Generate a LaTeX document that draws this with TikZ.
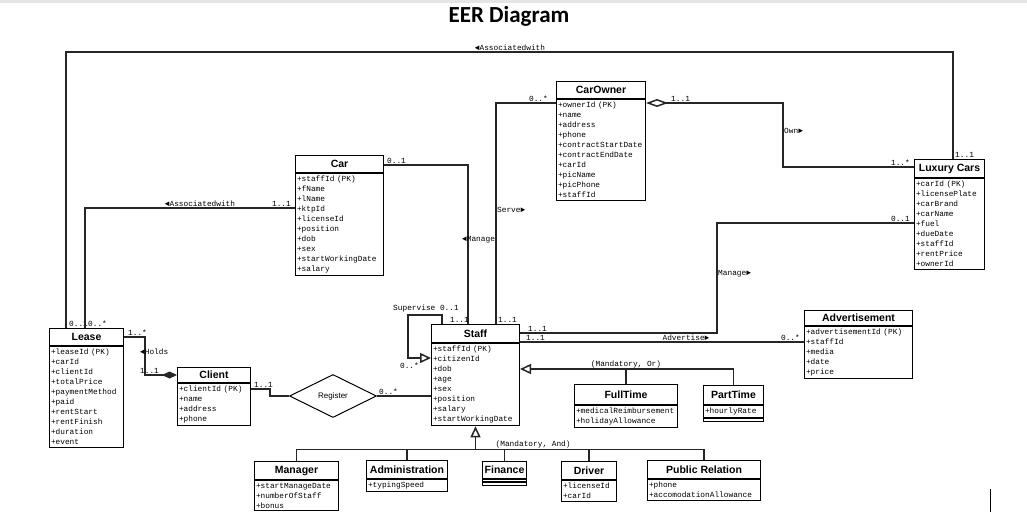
\documentclass[tikz,border=0pt]{standalone}
\usepackage{fontspec}
\setmainfont{Liberation Sans}
\setmonofont{Liberation Mono}
\newfontfamily\titlefont{Carlito}
\usetikzlibrary{arrows.meta, shapes.geometric}
% [header options]{name}{x}{y}{width}{title}{attributes}
\newcommand{\umlclass}[7][]{%
  \node[classhead, minimum width=#5pt, #1] (#2) at (#3,#4) {#6};
  \node[classbody, text width=#5pt-3pt] (#2 attr) at (#2.south) {#7};
}

\begin{document}
\begin{tikzpicture}[
        x=1pt, y=-1pt,
        classhead/.style={draw, line width=1pt, anchor=north west, inner sep=0pt,
          minimum height=17pt, font=\bfseries\fontsize{10.5}{12}\selectfont},
        classbody/.style={draw, line width=1pt, anchor=north, align=left,
          inner xsep=1.5pt, inner ysep=2.5pt, font=\ttfamily\fontsize{7.8}{10}\selectfont},
        assoc/.style={draw, line width=1.5pt, black!85},
        mult/.style={inner sep=1pt, font=\ttfamily\fontsize{7.8}{10}\selectfont},
        gen/.style={-{Triangle[open, length=11pt, width=10pt]}}]
        \useasboundingbox (0,0) rectangle (1027,525);
        \fill[black!10] (0,0) rectangle (1027,3);
        \node[font=\titlefont\bfseries\fontsize{23}{26}\selectfont] (title) at (509,16) {EER Diagram};
        % Classes
        \umlclass{carowner}{556}{81}{89}{CarOwner}{+ownerId (PK)\\+name\\+address\\+phone\\+contractStartDate\\+contractEndDate\\+carId\\+picName\\+picPhone\\+staffId}
        \umlclass{car}{295}{155}{88}{Car}{+staffId (PK)\\+fName\\+lName\\+ktpId\\+licenseId\\+position\\+dob\\+sex\\+startWorkingDate\\+salary}
        \umlclass[minimum height=18pt]{luxury}{914}{159}{70}{Luxury Cars}{+carId (PK)\\+licensePlate\\+carBrand\\+carName\\+fuel\\+dueDate\\+staffId\\+rentPrice\\+ownerId}
        \umlclass[minimum height=18pt]{staff}{431}{324}{88}{Staff}{+staffId (PK)\\+citizenId\\+dob\\+age\\+sex\\+position\\+salary\\+startWorkingDate}
        \umlclass{lease}{49}{328}{74}{Lease}{+leaseId (PK)\\+carId\\+clientId\\+totalPrice\\+paymentMethod\\+paid\\+rentStart\\+rentFinish\\+duration\\+event}
        \umlclass[minimum height=15pt]{client}{177}{367}{73}{Client}{+clientId (PK)\\+name\\+address\\+phone}
        \umlclass[minimum height=15pt]{advert}{804}{310}{108}{Advertisement}{+advertisementId (PK)\\+staffId\\+media\\+date\\+price}
        \umlclass[minimum height=20pt]{fulltime}{574}{384}{103}{FullTime}{+medicalReimbursement\\+holidayAllowance}
        \umlclass[minimum height=19pt]{parttime}{703}{385}{60}{PartTime}{+hourlyRate}
        \node[classbody, text width=57pt, inner ysep=1.5pt] (parttime ops) at (parttime attr.south) {};
        \umlclass[minimum height=18pt]{manager}{254}{461}{84}{Manager}{+startManageDate\\+numberOfStaff\\+bonus}
        \umlclass[minimum height=18pt]{admin}{366}{460}{81}{Administration}{+typingSpeed}
        \node[classhead, minimum width=44pt] (finance) at (482,461) {Finance};
        \node[classbody, text width=41pt, inner ysep=1.2pt] (finance attr) at (finance.south) {};
        \node[classbody, text width=41pt, inner ysep=1.2pt] (finance ops) at (finance attr.south) {};
        \umlclass[minimum height=18pt]{driver}{561}{461}{55}{Driver}{+licenseId\\+carId}
        \umlclass[minimum height=18pt]{pubrel}{647}{460}{113}{Public Relation}{+phone\\+accomodationAllowance}
        \node[diamond, draw, line width=1pt, aspect=2, minimum width=87pt, minimum height=43pt,
          inner sep=0pt, font=\fontsize{8}{10}\selectfont] (register) at (333,396) {Register};
        % Relations
        \coordinate (assoc top) at (510,52);
        \draw[assoc] ([xshift=17pt]lease.north west) |- (assoc top) -| ([xshift=39pt]luxury.north west);
        \node[mult, anchor=south] (assoc top label) at (assoc top) {◄Associatedwith};
        \node[mult, anchor=south west] (lease mult a) at ([xshift=19pt]lease.north west) {0..1};
        \node[mult, anchor=south west] (lease mult b) at ([xshift=38pt]lease.north west) {0..*};
        \node[mult, anchor=south west] (luxury mult top) at ([xshift=40pt]luxury.north west) {1..1};

        \coordinate (car lease) at ([yshift=-53pt]car.north west);
        \draw[assoc] (car lease) -| ([xshift=36pt]lease.north west);
        \node[mult, anchor=south east] (car lease mult) at ([xshift=-3pt]car lease) {1..1};
        \node[mult, anchor=south] (car lease label) at (200,208) {◄Associatedwith};

        \coordinate (car manage) at ([yshift=-10pt]car.north east);
        \draw[assoc] (car manage) -| ([xshift=37pt]staff.north west);
        \node[mult, anchor=south west] (car manage mult) at ([xshift=2pt]car manage) {0..1};
        \node[mult, anchor=west] (car manage label) at (461,240) {◄Manage};
        \node[mult, anchor=south east] (staff manage mult) at ([xshift=39pt]staff.north west) {1..1};

        \coordinate (owner serve) at ([yshift=-22pt]carowner.north west);
        \draw[assoc] (owner serve) -| ([xshift=65pt]staff.north west);
        \node[mult, anchor=south east] (owner serve mult) at ([xshift=-7pt]owner serve) {0..*};
        \node[mult, anchor=west] (serve label) at (496,210) {Serve►};
        \node[mult, anchor=south west] (staff serve mult) at ([xshift=66pt]staff.north west) {1..1};

        \coordinate (owner own) at ([yshift=-22pt]carowner.north east);
        \coordinate (own bend) at (783,131);
        \draw[assoc, {Diamond[open, length=22pt, width=8pt]}-] (owner own) -| (own bend) |- ([yshift=-8pt]luxury.north west);
        \node[mult, anchor=south west] (own mult a) at ([xshift=24pt]owner own) {1..1};
        \node[mult, anchor=west] (own label) at (own bend) {Own►};
        \node[mult, anchor=south east] (own mult b) at ([xshift=-3pt, yshift=-8pt]luxury.north west) {1..*};

        \coordinate (staff manage) at ([yshift=-9pt]staff.north east);
        \coordinate (manage bend) at (717,274);
        \draw[assoc] (staff manage) -| (manage bend) |- ([yshift=-64pt]luxury.north west);
        \node[mult, anchor=south west] (manage mult a) at ([xshift=7pt]staff manage) {1..1};
        \node[mult, anchor=west] (manage label) at (manage bend) {Manage►};
        \node[mult, anchor=south east] (manage mult b) at ([xshift=-3pt, yshift=-64pt]luxury.north west) {0..1};

        \coordinate (staff advert) at ([yshift=-18pt]staff.north east);
        \draw[assoc] (staff advert) -- (staff advert -| advert.west);
        \node[mult, anchor=south west] (advert mult a) at ([xshift=5pt]staff advert) {1..1};
        \node[mult, anchor=south] (advert label) at (686,342) {Advertise►};
        \node[mult, anchor=south east] (advert mult b) at ([xshift=-3pt]staff advert -| advert.west) {0..*};

        \coordinate (sup corner) at (408,315);
        \draw[assoc, gen] ([xshift=11pt]staff.north west) |- (sup corner) |- ([yshift=-34pt]staff.north west);
        \node[mult, anchor=south] (sup label) at (426,313) {Supervise 0..1};
        \node[mult, anchor=east] (sup mult) at (420,366) {0..*};

        \coordinate (holds bend) at (145,355);
        \draw[assoc, -{Diamond[length=15pt, width=7pt]}] ([yshift=-9pt]lease.north east) -| (holds bend) |- ([yshift=-8pt]client.north west);
        \node[mult, anchor=south west] (holds mult a) at ([xshift=3pt, yshift=-9pt]lease.north east) {1..*};
        \node[mult, anchor=west] (holds label) at (139,352) {◄Holds};
        \node[mult, anchor=west] (holds mult b) at (139,371) {1..1};

        \coordinate (reg bend) at (270,392);
        \draw[assoc] ([yshift=-22pt]client.north east) -| (reg bend) |- (register.west);
        \draw[assoc] (register.east) -- (register.east -| staff.west);
        \node[mult, anchor=south west] (reg mult a) at ([xshift=2pt, yshift=-22pt]client.north east) {1..1};
        \node[mult, anchor=south west] (reg mult b) at ([xshift=1pt]register.east) {0..*};

        \coordinate (or join) at ([yshift=-45pt]staff.north east);
        \draw[assoc, gen] (parttime.north) |- (or join);
        \draw[assoc] (fulltime.north) -- (fulltime.north |- or join);
        \node[mult, anchor=south] (or label) at (fulltime.north |- or join) {(Mandatory, Or)};

        \coordinate (and join) at ([yshift=-23pt]staff attr.south);
        \draw[assoc, gen] (and join) -- (staff attr.south);
        \foreach \sub in {manager, admin, finance, driver, pubrel}
          \draw[assoc] (\sub.north) |- (and join);
        \node[mult, anchor=south west] (and label) at ([xshift=19pt]and join) {(Mandatory, And)};

        \draw[line width=1pt] (990,489) -- (990,512);
      \end{tikzpicture}
\end{document}
